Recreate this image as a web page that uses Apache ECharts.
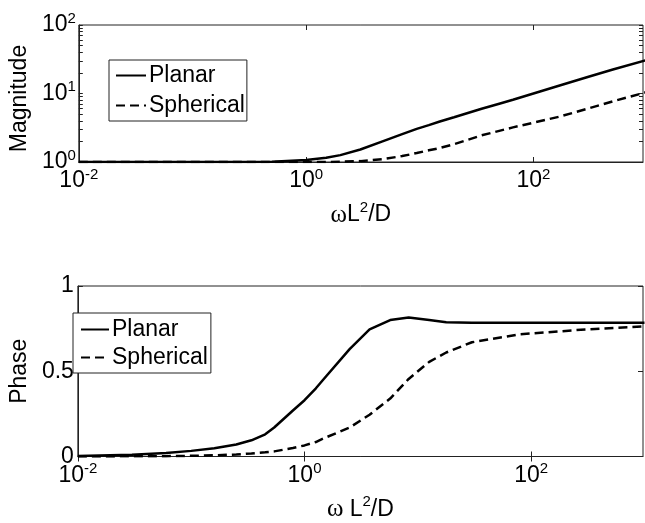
<!DOCTYPE html>
<html>
<head>
    <meta charset="utf-8">
    <style>
        body { margin: 0; background: #fff; }
        #main { width: 645px; height: 523px; }
    </style>
    <script src="https://cdn.jsdelivr.net/npm/echarts@6/dist/echarts.min.js"></script>
</head>
<body>
    <div id="main"></div>
    <script type="text/javascript">
        // magnitude curves
        var magW = [0.01, 0.1, 0.3, 0.5, 1, 1.5, 2, 3, 4.7, 7, 9.4, 12, 15, 20, 35, 50, 66, 100, 170, 300, 500, 1000];
        var magPlanar = [1, 1, 1, 1.01, 1.07, 1.15, 1.26, 1.52, 2.0, 2.55, 3.05, 3.45, 3.9, 4.5, 6.0, 7.1, 8.1, 10.0, 13.1, 17.4, 22.4, 31];
        var magSpherical = [1, 1, 1, 1, 1, 1, 1.01, 1.03, 1.1, 1.22, 1.35, 1.48, 1.6, 1.82, 2.45, 2.85, 3.2, 3.75, 4.6, 6.0, 7.7, 10.5];

        // phase curves
        var phaseW = [0.01, 0.03, 0.06, 0.1, 0.16, 0.25, 0.34, 0.45, 0.54, 0.79, 1, 1.26, 1.46, 2.5, 3.75, 5.7, 8.3, 12.6, 17.8, 30, 80, 300, 1000];
        var phasePlanar = [0.003, 0.01, 0.02, 0.033, 0.048, 0.07, 0.095, 0.13, 0.17, 0.27, 0.33, 0.40, 0.45, 0.63, 0.745, 0.80, 0.815, 0.80, 0.787, 0.785, 0.785, 0.785, 0.785];
        var phaseSpherical = [0, 0.001, 0.002, 0.004, 0.007, 0.012, 0.018, 0.025, 0.03, 0.05, 0.065, 0.085, 0.105, 0.17, 0.245, 0.34, 0.455, 0.555, 0.61, 0.67, 0.717, 0.745, 0.763];

        var names = ['Planar', 'Spherical'];
        var xTicks = [0.01, 1, 100];
        var magTicks = [1, 10, 100];
        var magMinor = [1, 2, 3, 4, 5, 6, 7, 8, 9, 10, 20, 30, 40, 50, 60, 70, 80, 90, 100];

        var FONT = 'Liberation Sans';
        var FS = 23;
        var ink = '#222';

        function pairs(xs, ys) {
            return xs.map(function (x, i) { return [x, ys[i]]; });
        }
        function powLabel(v) {
            var e = Math.round(Math.log(v) / Math.LN10);
            return '{b|10}{s|' + e + '}';
        }
        var powRich = {
            b: { fontSize: FS, fontFamily: FONT, color: '#000', lineHeight: 28 },
            s: { fontSize: 15, fontFamily: FONT, color: '#000', lineHeight: 15, verticalAlign: 'top' }
        };
        var nameRich = {
            w: { fontSize: 25, fontFamily: 'Liberation Serif', color: '#000', lineHeight: 30 },
            t: { fontSize: FS, fontFamily: FONT, color: '#000', lineHeight: 30 },
            s: { fontSize: 15, fontFamily: FONT, color: '#000', lineHeight: 15, verticalAlign: 'top' }
        };

        function logX(grid, pos, xmax, withLabel, name) {
            return {
                type: 'log', logBase: 10, gridIndex: grid, position: pos,
                min: 0.01, max: xmax, interval: 2,
                axisLine: { show: pos === 'bottom', lineStyle: { color: ink, width: 1 } },
                axisTick: { show: true, inside: true, length: 5, lineStyle: { color: ink }, customValues: xTicks },
                axisLabel: {
                    show: withLabel, margin: 5, formatter: powLabel, rich: powRich,
                    customValues: xTicks
                },
                splitLine: { show: false },
                name: withLabel ? name : '',
                nameLocation: 'middle', nameGap: 38,
                nameTextStyle: { rich: nameRich }
            };
        }
        function magY(pos, withLabel) {
            return {
                type: 'log', logBase: 10, gridIndex: 0, position: pos,
                min: 1, max: 100, interval: 1,
                axisLine: { show: pos === 'left', lineStyle: { color: ink, width: 1 } },
                axisTick: { show: true, inside: true, length: 4, lineStyle: { color: ink }, customValues: magMinor },
                axisLabel: { show: withLabel, margin: 3, formatter: powLabel, rich: powRich, customValues: magTicks },
                splitLine: { show: false },
                name: withLabel ? 'Magnitude' : '',
                nameLocation: 'middle', nameGap: 44,
                nameTextStyle: { fontSize: FS, fontFamily: FONT, color: '#000', padding: [0, 10, 0, 0] }
            };
        }
        function phaseY(pos, withLabel) {
            return {
                type: 'value', gridIndex: 1, position: pos,
                min: 0, max: 1, interval: 0.5,
                axisLine: { show: pos === 'left', lineStyle: { color: ink, width: 1 } },
                axisTick: { show: true, inside: true, length: 5, lineStyle: { color: ink } },
                axisLabel: { show: withLabel, margin: 4, fontSize: FS, fontFamily: FONT, color: '#000', padding: [6, 0, 0, 0] },
                splitLine: { show: false },
                name: withLabel ? 'Phase' : '',
                nameLocation: 'middle', nameGap: 44,
                nameTextStyle: { fontSize: FS, fontFamily: FONT, color: '#000' }
            };
        }
        function curve(name, data, xi, yi, dashed) {
            return {
                name: name, type: 'line', xAxisIndex: xi, yAxisIndex: yi,
                data: data, symbol: 'none', smooth: false, clip: true,
                lineStyle: { color: '#000', width: 2.5, type: dashed ? [9, 5] : 'solid' },
                itemStyle: { color: '#000' }
            };
        }
        function legendBox(left, top, padding, itemW, gap) {
            return {
                orient: 'vertical', left: left, top: top,
                data: names, selectedMode: false,
                backgroundColor: '#fff', borderColor: ink, borderWidth: 1,
                padding: padding, itemWidth: itemW, itemHeight: 14, itemGap: gap,
                itemStyle: { opacity: 0 },
                textStyle: { fontSize: FS, fontFamily: FONT, color: '#000', padding: [0, 0, 0, -2] }
            };
        }

        var xName1 = '{w|ω}{t|L}{s|2}{t|/D}';
        var xName2 = '{w|ω }{t|L}{s|2}{t|/D}';

        var myChart = echarts.init(document.getElementById('main'), null, { renderer: 'canvas' });
        var option = {
            backgroundColor: '#fff',
            animation: false,
            grid: [
                { left: 73, top: 25, right: 2, height: 137, show: true, borderColor: ink, borderWidth: 1 },
                { left: 71, top: 286, right: 2, height: 173, show: true, borderColor: ink, borderWidth: 1 }
            ],
            xAxis: [
                logX(0, 'bottom', 920, true, xName1),
                logX(0, 'top', 920, false, ''),
                logX(1, 'bottom', 970, true, xName2),
                logX(1, 'top', 970, false, '')
            ],
            yAxis: [
                magY('left', true),
                magY('right', false),
                phaseY('left', true),
                phaseY('right', false)
            ],
            legend: [
                legendBox(109, 60, [4, 2, 4, 6], 30, 7),
                legendBox(73, 313, [5, 3, 4, 7], 28, 5)
            ],
            series: [
                curve(names[0], pairs(magW, magPlanar), 0, 0, false),
                curve(names[1], pairs(magW, magSpherical), 0, 0, true),
                curve(names[0], pairs(phaseW, phasePlanar), 2, 2, false),
                curve(names[1], pairs(phaseW, phaseSpherical), 2, 2, true)
            ]
        };
        myChart.setOption(option);
    </script>
</body>
</html>
